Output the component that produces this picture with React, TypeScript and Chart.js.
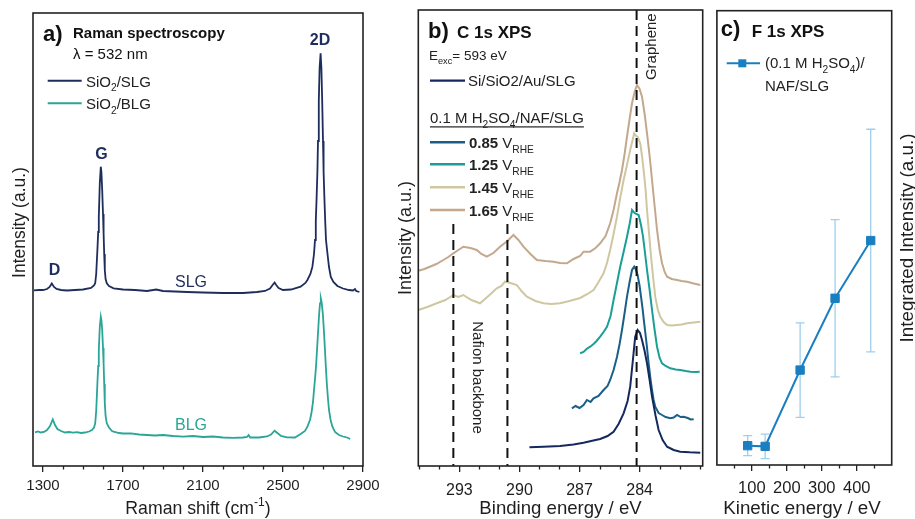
import React, { useEffect, useRef } from "react";
import { Chart, registerables } from "chart.js";

Chart.register(...registerables);

const FONT = '"Liberation Sans", Arial, Helvetica, sans-serif';
const INK = "#1e1e1e";

// ---------- Panel a: Raman ----------
const SLG_SHIFT = [1255, 1280, 1300, 1320, 1333, 1344, 1355, 1368, 1390, 1420, 1460, 1500, 1540, 1555, 1561, 1566, 1572, 1576, 1579, 1584, 1589, 1592, 1596, 1600, 1603, 1606, 1609, 1613, 1619, 1630, 1653, 1700, 1760, 1820, 1866, 1900, 1960, 2020, 2100, 2200, 2300, 2370, 2410, 2435, 2448, 2458, 2466, 2478, 2500, 2540, 2588, 2612, 2622, 2637, 2647, 2655, 2660, 2664, 2668, 2672, 2675, 2679, 2683, 2688, 2692, 2696, 2700, 2703, 2707, 2711, 2715, 2722, 2730, 2739, 2752, 2772, 2800, 2830, 2850, 2860, 2866, 2882];
const SLG_INTENSITY = [175.7, 176, 176, 177, 179, 182.5, 179, 177, 176, 175.5, 176, 176.5, 178, 180.5, 182.7, 192, 216, 234, 249.3, 282.7, 299.3, 294, 276, 252, 232.7, 212, 196, 187, 182.7, 180, 177.7, 176.5, 176, 175, 176.5, 175, 174.5, 174, 173.5, 173, 173, 174, 175, 177.5, 181, 183.5, 181, 178, 176, 176.5, 179.3, 183, 186, 192, 199.3, 212, 226, 245, 268, 294, 325, 365, 398, 412.7, 398, 365, 325, 294, 268, 245, 226, 213, 199, 189, 184, 180, 177.5, 176, 175.5, 177, 175, 174];

const BLG_SHIFT = [1260, 1275, 1290, 1305, 1320, 1335, 1349, 1360, 1372, 1390, 1410, 1430, 1450, 1470, 1490, 1510, 1530, 1545, 1555, 1561, 1566, 1572, 1576, 1579, 1584, 1589, 1592, 1596, 1600, 1603, 1606, 1609, 1613, 1619, 1630, 1645, 1653, 1680, 1700, 1740, 1780, 1820, 1860, 1900, 1950, 2000, 2050, 2100, 2150, 2200, 2250, 2300, 2320, 2328, 2336, 2380, 2420, 2440, 2458, 2472, 2490, 2520, 2560, 2588, 2610, 2622, 2635, 2642, 2650, 2655, 2660, 2665, 2670, 2675, 2680, 2685, 2689, 2693, 2699, 2704, 2709, 2714, 2719, 2725, 2730, 2738, 2747, 2760, 2780, 2800, 2820, 2836];
const BLG_INTENSITY = [33.7, 34.5, 33.5, 34, 36, 40, 46.7, 41, 37, 35, 33.5, 34, 33.3, 33.8, 33, 33.5, 34.5, 36, 38.5, 42.7, 55, 82.7, 100, 116, 139.3, 149.3, 146, 136, 118, 102.7, 82, 62.7, 50, 42.7, 38.5, 35, 34.3, 33, 32.5, 32.7, 31.5, 31, 30.5, 31, 30, 29.3, 30, 29, 29.5, 28.5, 28.2, 28.5, 29, 31, 28.5, 28.5, 29.5, 31.5, 35.3, 33, 30, 28.7, 28.5, 32, 35, 39.3, 46, 52.7, 64, 76, 87, 99.3, 116, 132.7, 150, 162.7, 167.7, 164, 152.7, 137, 119.3, 100, 82.7, 67, 56, 46, 39.3, 34, 31, 29.5, 28.5, 27];

const RAMAN_TICKS = [1300, 1400, 1500, 1600, 1700, 1800, 1900, 2000, 2100, 2200, 2300, 2400, 2500, 2600, 2700, 2800, 2900];
const RAMAN_LABELS = [1300, 1700, 2100, 2500, 2900];

// ---------- Panel b: C 1s XPS ----------
const REF_BE = [289.5, 288.8, 287.97, 287.3, 286.8, 286.2, 285.97, 285.6, 285.3, 285.05, 284.8, 284.6, 284.47, 284.35, 284.22, 284.1, 283.98, 283.88, 283.75, 283.63, 283.5, 283.38, 283.2, 283.05, 282.85, 282.63, 282.3, 281.97, 281.5, 280.97];
const REF_I = [18.7, 19.3, 20, 21.5, 23.3, 26, 27, 30, 34.3, 42, 52.7, 65, 79.3, 103, 129.3, 136, 133, 126, 115, 102.7, 86, 69.3, 50, 36, 26, 19.3, 16, 14.3, 13.7, 13.3];

const V085_BE = [287.38, 287.2, 287.0, 286.8, 286.63, 286.45, 286.3, 286.05, 285.8, 285.6, 285.47, 285.3, 285.13, 285.0, 284.88, 284.75, 284.63, 284.5, 284.38, 284.27, 284.2, 284.1, 284.0, 283.93, 283.85, 283.77, 283.65, 283.55, 283.45, 283.38, 283.3, 283.22, 283.05, 282.88, 282.7, 282.47, 282.3, 282.13, 281.95, 281.8, 281.6, 281.45, 281.3];
const V085_I = [57.7, 60, 58, 61, 66, 64, 67.7, 70, 76, 80, 86, 96, 109, 122, 136, 153, 169.3, 184, 196, 199.3, 197, 191, 180, 169.3, 157, 142.7, 122, 102.7, 86, 76, 66, 59.3, 53, 51, 49, 47.7, 48.5, 51, 49, 49.3, 48, 46.5, 46.7];

const V125_BE = [286.97, 286.8, 286.65, 286.47, 286.3, 286.15, 285.97, 285.8, 285.63, 285.45, 285.3, 285.13, 284.97, 284.8, 284.63, 284.5, 284.38, 284.3, 284.22, 284.05, 283.93, 283.83, 283.73, 283.63, 283.5, 283.38, 283.25, 283.13, 283.0, 282.88, 282.7, 282.47, 282.2, 281.97, 281.7, 281.47, 281.2, 281.0];
const V125_I = [112.7, 114, 117, 119.3, 122, 125, 129.3, 134, 139.3, 150, 166, 183, 199.3, 214, 229.3, 242, 256, 254, 252.7, 251, 241, 229.3, 213, 196, 176, 156, 136, 119.3, 108, 102.7, 100, 97.7, 96.5, 96, 95, 94.3, 94, 94.3];

const V145_BE = [295.05, 294.6, 294.13, 293.7, 293.3, 293.05, 292.8, 292.4, 291.97, 291.55, 291.13, 290.9, 290.72, 290.45, 290.13, 289.9, 289.63, 289.2, 288.8, 288.4, 287.97, 287.5, 286.97, 286.6, 286.3, 286.05, 285.8, 285.63, 285.47, 285.3, 285.13, 284.97, 284.8, 284.63, 284.47, 284.35, 284.27, 284.18, 284.1, 283.97, 283.88, 283.8, 283.7, 283.63, 283.53, 283.43, 283.32, 283.22, 283.1, 282.97, 282.8, 282.63, 282.4, 282.13, 281.9, 281.63, 281.3, 280.97];
const V145_I = [156, 159, 162.7, 166, 171, 169, 171, 166, 162.7, 170, 177.7, 180, 184.3, 183, 181, 175, 169.3, 165, 162.7, 162, 162.7, 165, 168, 172, 176, 184, 192.7, 203, 216, 232, 249.3, 268, 286, 301, 316, 326, 332.7, 330, 329.3, 322.7, 310, 296, 276, 256, 233, 209.3, 188, 169.3, 157, 149.3, 144, 141, 140.5, 141, 141.5, 142.7, 143.5, 144.3];

const V165_BE = [295.05, 294.75, 294.47, 294.15, 293.8, 293.55, 293.3, 293.05, 292.8, 292.45, 292.13, 291.9, 291.63, 291.3, 290.97, 290.6, 290.3, 290.05, 289.8, 289.45, 289.13, 288.7, 288.3, 287.97, 287.63, 287.3, 286.97, 286.8, 286.47, 286.2, 285.97, 285.7, 285.47, 285.3, 285.13, 285.0, 284.88, 284.75, 284.63, 284.5, 284.38, 284.25, 284.13, 284.0, 283.88, 283.75, 283.63, 283.5, 283.38, 283.25, 283.13, 283.0, 282.88, 282.75, 282.63, 282.4, 282.13, 281.9, 281.63, 281.3, 280.97];
const V165_I = [195.3, 197, 199.3, 202, 206, 209, 212.7, 216, 219.3, 218, 216, 212, 209.3, 213, 219.3, 225, 231, 226, 219.3, 212, 206, 205, 204.3, 203, 202.7, 207, 210, 214.3, 214.3, 218, 222.7, 230, 242.7, 256, 272.7, 284, 296, 312, 329.3, 347, 362.7, 374, 381, 377, 369.3, 352, 332.7, 310, 286, 260, 236, 216, 202.7, 194, 189.3, 187, 186, 185, 184.3, 182.5, 181];

const NAFION_BE = [293.3, 290.6];
const NAFION_TOP = 242;
const GRAPHENE_BE = 284.15;
const GRAPHENE_TOP = 456;
const XPS_TICKS = [281, 282, 283, 284, 285, 286, 287, 288, 289, 290, 291, 292, 293, 294, 295];
const XPS_LABELS = [293, 290, 287, 284];

// ---------- Panel c: F 1s XPS ----------
const KINETIC_ENERGY = [88, 138, 238, 338, 440];
const F1S_INTENSITY = [4.25, 4.1, 20.9, 36.7, 49.4];
const F1S_ERROR = [2.2, 2.7, 10.4, 17.3, 24.5];
const KE_TICKS = [50, 100, 150, 200, 250, 300, 350, 400, 450];
const KE_LABELS = [100, 200, 300, 400];

// ---------- colours ----------
const C_SLG = "#1f2d5c";
const C_BLG = "#2aa596";
const C_REF = "#14295d";
const C_085 = "#1a5f87";
const C_125 = "#1a9f96";
const C_145 = "#cfc7a1";
const C_165 = "#c3a88d";
const C_F1S = "#1a7fc0";
const C_ERR = "#9dcfee";

type Seg = { t: string; b?: boolean; sub?: boolean; sup?: boolean };

function rich(ctx: CanvasRenderingContext2D, x: number, y: number, segs: Seg[], size: number, color: string, align: "left" | "center" = "left", underline = false) {
  ctx.save();
  ctx.fillStyle = color;
  ctx.textBaseline = "alphabetic";
  ctx.textAlign = "left";
  const fontOf = (s: Seg) => `${s.b ? "bold " : ""}${s.sub || s.sup ? size * 0.68 : size}px ${FONT}`;
  let w = 0;
  for (const s of segs) {
    ctx.font = fontOf(s);
    w += ctx.measureText(s.t).width;
  }
  let cx = align === "center" ? x - w / 2 : x;
  const x0 = cx;
  for (const s of segs) {
    ctx.font = fontOf(s);
    const dy = s.sub ? size * 0.3 : s.sup ? -size * 0.42 : 0;
    ctx.fillText(s.t, cx, y + dy);
    cx += ctx.measureText(s.t).width;
  }
  if (underline) ctx.fillRect(x0, y + 3, w, 1.2);
  ctx.restore();
}

function rot(ctx: CanvasRenderingContext2D, x: number, y: number, text: string, size: number, color: string, angle: number) {
  ctx.save();
  ctx.translate(x, y);
  ctx.rotate(angle);
  ctx.font = `${size}px ${FONT}`;
  ctx.fillStyle = color;
  ctx.textAlign = "center";
  ctx.textBaseline = "alphabetic";
  ctx.fillText(text, 0, 0);
  ctx.restore();
}

function seg(ctx: CanvasRenderingContext2D, x1: number, y1: number, x2: number, y2: number, color: string, w: number) {
  ctx.save();
  ctx.strokeStyle = color;
  ctx.lineWidth = w;
  ctx.beginPath();
  ctx.moveTo(x1, y1);
  ctx.lineTo(x2, y2);
  ctx.stroke();
  ctx.restore();
}

function pts(xs: number[], ys: number[]) {
  return xs.map((x, i) => ({ x, y: ys[i] }));
}

// Major ticks (with labels) come from Chart.js; minor ones are drawn by a plugin at the scale's pixel positions.
function xAxis(min: number, max: number, labels: number[], size: number, pad: number, height: number, reverse = false) {
  return {
    type: "linear" as const,
    min,
    max,
    reverse,
    afterBuildTicks: (s: any) => {
      s.ticks = labels.map((v) => ({ value: v }));
    },
    afterFit: (s: any) => {
      s.height = height;
      s.paddingLeft = 0;
      s.paddingRight = 0;
    },
    grid: { display: true, drawOnChartArea: false, drawTicks: true, tickLength: 6, color: "#222", lineWidth: 1.3 },
    border: { display: false },
    ticks: {
      autoSkip: false,
      maxRotation: 0,
      minRotation: 0,
      padding: pad,
      color: INK,
      font: { family: FONT, size },
      callback: (v: any) => String(v),
    },
  };
}

function frameAndMinor(chart: any, ticks: number[], labels: number[]) {
  const { ctx, chartArea: a } = chart;
  const xs = chart.scales.x;
  ctx.save();
  ctx.strokeStyle = "#222";
  ctx.lineWidth = 1.3;
  ctx.beginPath();
  for (const v of ticks) {
    if (labels.includes(v)) continue;
    const px = Math.round(xs.getPixelForValue(v)) + 0.5;
    ctx.moveTo(px, a.bottom);
    ctx.lineTo(px, a.bottom + 3.5);
  }
  ctx.stroke();
  ctx.lineWidth = 1.6;
  ctx.strokeRect(a.left, a.top, a.right - a.left, a.bottom - a.top);
  ctx.restore();
}

const W = 915;
const H = 519;
const A_LEFT = 0, A_W = 390;
const B_LEFT = 370, B_W = 350;
const C_LEFT = 710, C_W = 205;

export default function App() {
  const ra = useRef<HTMLCanvasElement>(null);
  const rb = useRef<HTMLCanvasElement>(null);
  const rc = useRef<HTMLCanvasElement>(null);

  useEffect(() => {
    const common = { responsive: false, animation: false as const, devicePixelRatio: 1, events: [] as any[] };
    const noPlugins = { legend: { display: false }, tooltip: { enabled: false } };

    // ---------- chart a ----------
    const chartA = new Chart(ra.current!, {
      type: "line",
      data: {
        datasets: [
          { data: pts(SLG_SHIFT, SLG_INTENSITY), borderColor: C_SLG, borderWidth: 1.8, pointRadius: 0, tension: 0 },
          { data: pts(BLG_SHIFT, BLG_INTENSITY), borderColor: C_BLG, borderWidth: 1.8, pointRadius: 0, tension: 0 },
        ],
      },
      options: {
        ...common,
        layout: { padding: { left: 33, right: A_W - 363, top: 13, bottom: 0 } },
        scales: {
          x: xAxis(1250, 2900, RAMAN_LABELS, 15, 5, 53),
          y: { display: false, min: 0, max: 453 },
        },
        plugins: noPlugins,
      },
      plugins: [
        {
          id: "decorA",
          afterDraw(chart: any) {
            const ctx = chart.ctx;
            frameAndMinor(chart, RAMAN_TICKS, RAMAN_LABELS);
            ctx.save();
            ctx.translate(-A_LEFT, 0);
            rich(ctx, 43, 40.5, [{ t: "a)", b: true }], 22, "#111");
            rich(ctx, 73, 37.5, [{ t: "Raman spectroscopy", b: true }], 15, "#111");
            rich(ctx, 73, 58.5, [{ t: "λ = 532 nm" }], 15, "#111");
            seg(ctx, 47.7, 80.7, 81.7, 80.7, C_SLG, 2);
            rich(ctx, 86, 86.5, [{ t: "SiO" }, { t: "2", sub: true }, { t: "/SLG" }], 15, "#222");
            seg(ctx, 47.7, 103.3, 81.7, 103.3, C_BLG, 2);
            rich(ctx, 86, 109, [{ t: "SiO" }, { t: "2", sub: true }, { t: "/BLG" }], 15, "#222");
            rich(ctx, 54.5, 275, [{ t: "D", b: true }], 16, C_SLG, "center");
            rich(ctx, 101.5, 159, [{ t: "G", b: true }], 16, C_SLG, "center");
            rich(ctx, 320, 45, [{ t: "2D", b: true }], 16, C_SLG, "center");
            rich(ctx, 191, 287, [{ t: "SLG" }], 16, C_SLG, "center");
            rich(ctx, 191, 430, [{ t: "BLG" }], 16, C_BLG, "center");
            rich(ctx, 198, 513.5, [{ t: "Raman shift (cm" }, { t: "-1", sup: true }, { t: ")" }], 17.7, INK, "center");
            rot(ctx, 24.5, 222.5, "Intensity (a.u.)", 17.5, INK, -Math.PI / 2);
            ctx.restore();
          },
        },
      ],
    } as any);

    // ---------- chart b ----------
    const lineDs = (xs: number[], ys: number[], color: string) => ({ data: pts(xs, ys), borderColor: color, borderWidth: 2, pointRadius: 0, tension: 0 });
    const dashDs = (be: number, top: number) => ({ data: [{ x: be, y: top }, { x: be, y: 0 }], borderColor: "#111", borderWidth: 2, borderDash: [10, 6], pointRadius: 0 });
    const chartB = new Chart(rb.current!, {
      type: "line",
      data: {
        datasets: [
          dashDs(NAFION_BE[0], NAFION_TOP),
          dashDs(NAFION_BE[1], NAFION_TOP),
          dashDs(GRAPHENE_BE, GRAPHENE_TOP),
          lineDs(REF_BE, REF_I, C_REF),
          lineDs(V085_BE, V085_I, C_085),
          lineDs(V125_BE, V125_I, C_125),
          lineDs(V145_BE, V145_I, C_145),
          lineDs(V165_BE, V165_I, C_165),
        ],
      },
      options: {
        ...common,
        layout: { padding: { left: 418.3 - B_LEFT, right: B_LEFT + B_W - 702.7, top: 10, bottom: 0 } },
        scales: {
          x: xAxis(280.85, 295.05, XPS_LABELS, 16, 9, 53, true),
          y: { display: false, min: 0, max: 456 },
        },
        plugins: noPlugins,
      },
      plugins: [
        {
          id: "decorB",
          afterDraw(chart: any) {
            const ctx = chart.ctx;
            frameAndMinor(chart, XPS_TICKS, XPS_LABELS);
            ctx.save();
            ctx.translate(-B_LEFT, 0);
            rich(ctx, 428, 38, [{ t: "b)", b: true }], 22, "#111");
            rich(ctx, 457, 37.7, [{ t: "C 1s XPS", b: true }], 17, "#111");
            rich(ctx, 429, 60, [{ t: "E" }, { t: "exc", sub: true }, { t: "= 593 eV" }], 13.5, "#222");
            seg(ctx, 430, 80.7, 465, 80.7, C_REF, 2.2);
            rich(ctx, 468, 86, [{ t: "Si/SiO2/Au/SLG" }], 15, "#222");
            rich(ctx, 430, 123.3, [{ t: "0.1 M H" }, { t: "2", sub: true }, { t: "SO" }, { t: "4", sub: true }, { t: "/NAF/SLG" }], 15, "#222", "left", true);
            const entries: [string, string, number][] = [
              ["0.85", C_085, 142.3],
              ["1.25", C_125, 164.3],
              ["1.45", C_145, 187.3],
              ["1.65", C_165, 210],
            ];
            for (const [v, c, y] of entries) {
              seg(ctx, 430, y, 465, y, c, 2.4);
              rich(ctx, 469, y + 6, [{ t: v, b: true }, { t: " V" }, { t: "RHE", sub: true }], 15, "#222");
            }
            rot(ctx, 656, 46.7, "Graphene", 15, "#222", -Math.PI / 2);
            rot(ctx, 473.3, 377.5, "Nafion backbone", 15, "#222", Math.PI / 2);
            rich(ctx, 560.5, 514, [{ t: "Binding energy / eV" }], 18.6, INK, "center");
            rot(ctx, 411, 238, "Intensity (a.u.)", 18, INK, -Math.PI / 2);
            ctx.restore();
          },
        },
      ],
    } as any);

    // ---------- chart c ----------
    const chartC = new Chart(rc.current!, {
      type: "line",
      data: {
        datasets: [
          {
            data: pts(KINETIC_ENERGY, F1S_INTENSITY),
            borderColor: C_F1S,
            borderWidth: 2,
            pointStyle: "rect",
            pointRadius: 5.9,
            pointBackgroundColor: C_F1S,
            pointBorderColor: C_F1S,
            pointBorderWidth: 1,
            tension: 0,
          },
        ],
      },
      options: {
        ...common,
        layout: { padding: { left: 712.7 - C_LEFT, right: C_LEFT + C_W - 891.7, top: 10.7, bottom: 0 } },
        scales: {
          x: xAxis(0, 500, KE_LABELS, 16.5, 8, 54),
          y: { display: false, min: 0, max: 100 },
        },
        plugins: noPlugins,
      },
      plugins: [
        {
          id: "errorBars",
          beforeDatasetsDraw(chart: any) {
            const ctx = chart.ctx;
            const xs = chart.scales.x;
            const ys = chart.scales.y;
            ctx.save();
            ctx.strokeStyle = C_ERR;
            ctx.lineWidth = 1.3;
            KINETIC_ENERGY.forEach((k, i) => {
              const px = xs.getPixelForValue(k);
              const top = ys.getPixelForValue(F1S_INTENSITY[i] + F1S_ERROR[i]);
              const bot = ys.getPixelForValue(F1S_INTENSITY[i] - F1S_ERROR[i]);
              ctx.beginPath();
              ctx.moveTo(px, top);
              ctx.lineTo(px, bot);
              ctx.moveTo(px - 4.5, top);
              ctx.lineTo(px + 4.5, top);
              ctx.moveTo(px - 4.5, bot);
              ctx.lineTo(px + 4.5, bot);
              ctx.stroke();
            });
            ctx.restore();
          },
        },
        {
          id: "decorC",
          afterDraw(chart: any) {
            const ctx = chart.ctx;
            frameAndMinor(chart, KE_TICKS, KE_LABELS);
            ctx.save();
            ctx.translate(-C_LEFT, 0);
            rich(ctx, 720.7, 36, [{ t: "c)", b: true }], 22, "#111");
            rich(ctx, 751.7, 36.7, [{ t: "F 1s XPS", b: true }], 17, "#111");
            seg(ctx, 726.7, 63.3, 760, 63.3, C_F1S, 2);
            ctx.fillStyle = C_F1S;
            ctx.fillRect(738.3, 59.3, 8, 8);
            rich(ctx, 765, 68.3, [{ t: "(0.1 M H" }, { t: "2", sub: true }, { t: "SO" }, { t: "4", sub: true }, { t: ")/" }], 15, "#222");
            rich(ctx, 765, 91, [{ t: "NAF/SLG" }], 15, "#222");
            rich(ctx, 802, 514, [{ t: "Kinetic energy / eV" }], 18.8, INK, "center");
            rot(ctx, 913, 238, "Integrated Intensity (a.u.)", 18.8, INK, -Math.PI / 2);
            ctx.restore();
          },
        },
      ],
    } as any);

    return () => {
      chartA.destroy();
      chartB.destroy();
      chartC.destroy();
    };
  }, []);

  const cv = (left: number, w: number): React.CSSProperties => ({ position: "absolute", left, top: 0, width: w, height: H });

  return (
    <div style={{ position: "absolute", left: 0, top: 0, width: W, height: H, background: "#fff", overflow: "hidden" }}>
      <canvas ref={ra} width={A_W} height={H} style={cv(A_LEFT, A_W)} />
      <canvas ref={rb} width={B_W} height={H} style={cv(B_LEFT, B_W)} />
      <canvas ref={rc} width={C_W} height={H} style={cv(C_LEFT, C_W)} />
    </div>
  );
}
